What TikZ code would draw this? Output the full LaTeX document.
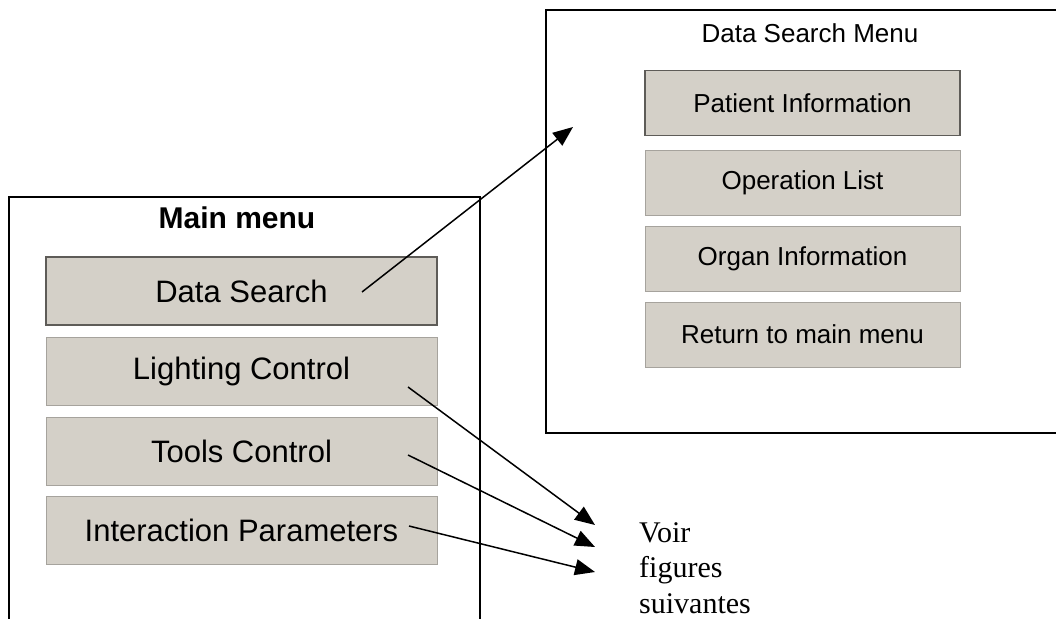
\documentclass[tikz,border=0pt]{standalone}
\usepackage{fontspec}
\usetikzlibrary{arrows.meta}
\newfontfamily\uisans{Liberation Sans}
\newfontfamily\noteserif{Liberation Serif}
\definecolor{btnface}{HTML}{D4D0C8}
\definecolor{btnedge}{HTML}{A6A39D}
\definecolor{btndark}{HTML}{5E5C58}
\begin{document}
\begin{tikzpicture}[x=1pt,y=-1pt,
  panel/.style={draw=black, line width=1.8pt},
  menubtn/.style={rectangle, fill=btnface, draw=btnedge, line width=1pt,
    inner sep=0pt, minimum width=391pt, minimum height=68pt,
    font=\uisans\fontsize{31}{36}\selectfont},
  subbtn/.style={menubtn, minimum width=315pt, minimum height=65pt,
    font=\uisans\fontsize{26}{30}\selectfont},
  current/.style={draw=btndark, line width=1.6pt},
  link/.style={draw=black, line width=1.5pt,
    -{Triangle[length=20pt,width=16pt]}}]
\useasboundingbox (0,0) rectangle (1056,618);
\clip (0,0) rectangle (1056,618);

% main menu panel (runs off the bottom edge)
\draw[panel] (9,640) -- (9,197) -- (480,197) -- (480,640);
\node[font=\uisans\bfseries\fontsize{30}{36}\selectfont] (maintitle) at (237,218) {Main menu};
\node[menubtn, current] (ds)  at (241.5,291)   {Data Search};
\node[menubtn] (light) at (241.5,371)   {Lighting Control};
\node[menubtn] (tools) at (241.5,451)   {Tools Control};
\node[menubtn] (inter) at (241.5,530.5) {Interaction Parameters};

% data search sub-menu panel (runs off the right edge)
\draw[panel] (1080,10) -- (546,10) -- (546,433) -- (1080,433);
\node[font=\uisans\fontsize{26}{30}\selectfont] (subtitle) at (810,33) {Data Search Menu};
\node[subbtn, current] (patient) at (802.5,103)   {Patient Information};
\node[subbtn] (oplist)  at (802.5,182.5) {Operation List};
\node[subbtn] (organ)   at (802.5,258.5) {Organ Information};
\node[subbtn] (back)    at (802.5,334.5) {Return to main menu};

% note for the remaining entries
\node[anchor=north west, inner sep=0pt, align=left,
      font=\noteserif\fontsize{30}{35.5}\selectfont] (voir) at (639,522)
      {Voir\\figures\\suivantes};

% arrow start and end points
\coordinate (dsfrom)    at (362,292);
\coordinate (dsto)      at (573,127);
\coordinate (lightfrom) at (408,387);
\coordinate (toolsfrom) at (408,455);
\coordinate (interfrom) at (409,526);
\coordinate (voirA) at (595,525);
\coordinate (voirB) at (595,547);
\coordinate (voirC) at (595,572);

\draw[link] (dsfrom) -- (dsto);
\draw[link] (lightfrom) -- (voirA);
\draw[link] (toolsfrom) -- (voirB);
\draw[link] (interfrom) -- (voirC);
\end{tikzpicture}
\end{document}
